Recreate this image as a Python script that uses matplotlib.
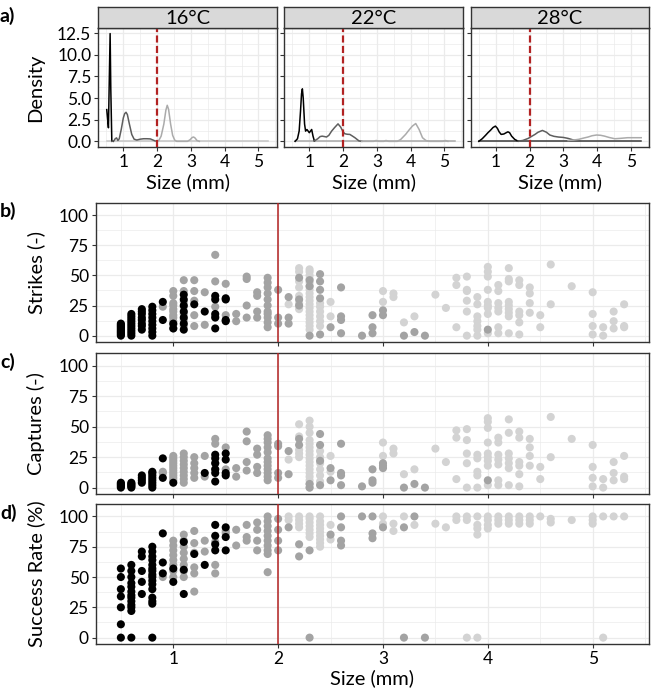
import matplotlib
matplotlib.use("Agg")
import matplotlib.pyplot as plt
from matplotlib.ticker import MultipleLocator, FormatStrFormatter

plt.rcParams['font.family'] = ['Lato', 'DejaVu Sans']

# ---------------- data ----------------
temps = ["16°C", "22°C", "28°C"]

# density curves (panel a)
d16_black_x = [0.51, 0.53, 0.56, 0.58, 0.61, 0.63, 0.66, 0.70]
d16_black_y = [3.67, 2.8, 1.57, 6.0, 12.46, 6.0, 0.03, 0.0]
d16_dgrey_x = [0.66, 0.72, 0.76, 0.80, 0.84, 0.88, 0.94, 1.00, 1.04, 1.08, 1.12, 1.18, 1.25,
               1.32, 1.40, 1.50, 1.60, 1.70, 1.80, 1.88, 1.95, 2.0]
d16_dgrey_y = [0.0, 0.05, 0.3, 0.4, 0.1, 0.3, 1.4, 2.7, 3.2, 3.36, 3.1, 2.0, 0.8,
               0.25, 0.15, 0.25, 0.3, 0.3, 0.28, 0.15, 0.03, 0.0]
d16_lgrey_x = [1.98, 2.05, 2.12, 2.2, 2.26, 2.30, 2.34, 2.40, 2.46, 2.52, 2.58, 2.7, 2.9,
               2.98, 3.04, 3.08, 3.12, 3.18, 3.25]
d16_lgrey_y = [0, 0.1, 0.6, 2.0, 3.6, 4.17, 3.7, 2.0, 0.7, 0.15, 0.0, 0, 0,
               0.2, 0.45, 0.5, 0.4, 0.1, 0]
d16_base_x = [0.51, 5.29]
d16_base_y = [0, 0]

d22_black_x = [0.58, 0.65, 0.70, 0.74, 0.77, 0.795, 0.82, 0.86, 0.89, 0.93, 1.0, 1.07, 1.11, 1.15]
d22_black_y = [0, 0.3, 1.2, 3.5, 5.5, 6.07, 5.0, 2.0, 1.18, 1.37, 1.0, 1.37, 0.6, 0.05]
d22_dgrey_x = [1.15, 1.25, 1.32, 1.38, 1.45, 1.51, 1.58, 1.66, 1.75, 1.85, 1.93, 2.0, 2.05,
               2.12, 2.2, 2.28, 2.35, 2.47, 2.55]
d22_dgrey_y = [0.05, 0.3, 0.55, 0.6, 0.55, 0.5, 0.7, 1.18, 1.6, 2.02, 1.64, 1.1, 0.88,
               0.82, 0.8, 0.6, 0.42, 0.05, 0]
d22_lgrey_x = [2.55, 2.9, 2.98, 3.06, 3.2, 3.27, 3.35, 3.6, 3.7, 3.85, 3.95, 4.05, 4.15,
               4.25, 4.35, 4.45, 4.55, 4.95, 5.03, 5.1]
d22_lgrey_y = [0, 0, 0.1, 0, 0, 0.1, 0, 0, 0.2, 0.8, 1.3, 1.76, 2.06,
               1.37, 0.42, 0.1, 0, 0, 0.1, 0]
d22_base_x = [0.58, 5.3]
d22_base_y = [0, 0]

d28_black_x = [0.50, 0.6, 0.7, 0.77, 0.85, 0.92, 0.99, 1.05, 1.1, 1.16, 1.24, 1.31, 1.36,
               1.41, 1.47, 1.56, 1.66]
d28_black_y = [0, 0.3, 0.7, 1.0, 1.3, 1.6, 1.76, 1.5, 1.1, 0.8, 0.85, 1.0, 1.1,
               1.0, 0.6, 0.23, 0.02]
d28_dgrey_x = [1.66, 1.8, 1.96, 2.05, 2.16, 2.25, 2.38, 2.5, 2.6, 2.72, 2.85, 3.0, 3.14,
               3.3, 3.4, 3.5]
d28_dgrey_y = [0.02, 0.1, 0.34, 0.55, 0.8, 1.05, 1.26, 1.05, 0.73, 0.58, 0.5, 0.45, 0.34,
               0.15, 0.05, 0.02]
d28_lgrey_x = [3.14, 3.3, 3.45, 3.6, 3.73, 3.85, 3.98, 4.1, 4.22, 4.35, 4.52, 4.7, 4.9, 5.1, 5.3]
d28_lgrey_y = [0.1, 0.15, 0.23, 0.38, 0.5, 0.65, 0.73, 0.7, 0.6, 0.45, 0.3, 0.35, 0.42, 0.42, 0.42]
d28_base_x = [0.5, 5.3]
d28_base_y = [0, 0]

threshold_size = 2.0

# scatter data: (size, [values at that size])
strikes_dark = [
    (0.5, [0, 1, 2, 3, 4, 5, 6, 7, 8, 9, 10]),
    (0.6, [0, 2, 4, 6, 8, 10, 12, 14, 16, 18]),
    (0.7, [5, 8, 10, 13, 15, 18, 20, 22]),
    (0.8, [0, 3, 6, 9, 12, 15, 18, 21, 24]),
    (0.9, [13, 28]),
    (1.0, [6, 10]),
    (1.1, [5, 10, 15, 20, 25, 30, 34]),
    (1.2, [26]),
    (1.3, [20]),
    (1.4, [6, 15, 18, 30, 33]),
    (1.5, [12, 13, 30, 31]),
]
strikes_mid = [
    (0.9, [24]),
    (1.0, [6, 9, 12, 15, 17, 20, 22, 25, 27, 33, 37]),
    (1.1, [8, 13, 18, 24, 28, 37, 46]),
    (1.2, [8, 17, 29, 37, 46]),
    (1.3, [9, 36]),
    (1.4, [16, 24, 45, 67]),
    (1.5, [17, 43]),
    (1.6, [12, 18]),
    (1.7, [15, 25, 47, 49]),
    (1.8, [15, 20, 33, 36]),
    (1.9, [7, 11, 15, 18, 20, 25, 30, 35, 40, 44, 48]),
    (2.0, [10, 15, 38]),
    (2.1, [10, 15, 32]),
    (2.2, [25, 30, 48]),
    (2.3, [0, 41, 46]),
    (2.4, [1, 31, 38, 45, 51]),
    (2.5, [7]),
    (2.6, [2, 13, 16, 40]),
    (2.8, [0]),
    (2.9, [2, 7, 17]),
    (3.0, [17, 21]),
    (3.2, [0]),
    (3.3, [3]),
    (3.4, [0]),
    (4.0, [5]),
]
strikes_light = [
    (2.1, [26]),
    (2.2, [22, 27, 33, 40, 45, 53, 56]),
    (2.3, [5, 8, 11, 14, 17, 20, 23, 26, 29, 32, 35, 38, 41, 44, 47, 50, 53, 55]),
    (2.4, [8, 12, 16, 20, 24, 27]),
    (2.5, [16, 28]),
    (3.0, [28, 37]),
    (3.1, [32, 35]),
    (3.2, [11]),
    (3.3, [16]),
    (3.5, [34]),
    (3.6, [23]),
    (3.7, [7, 42, 48]),
    (3.8, [0, 20, 29, 37, 38, 49]),
    (3.9, [0, 5, 8, 12, 16, 26, 32]),
    (4.0, [2, 18, 23, 25, 28, 38, 49, 53, 57]),
    (4.1, [2, 7, 20, 23, 27, 37, 42]),
    (4.2, [2, 16, 19, 22, 25, 28, 45, 47, 56]),
    (4.3, [1, 11, 17, 20, 42, 46]),
    (4.4, [19, 27, 35, 40]),
    (4.5, [7, 17]),
    (4.6, [26, 59]),
    (4.8, [41]),
    (5.0, [1, 8, 18, 36]),
    (5.1, [0, 7]),
    (5.2, [6, 12, 20]),
    (5.3, [7, 8, 26]),
]

captures_dark = [
    (0.5, [0, 1, 2, 3, 4]),
    (0.6, [0, 1, 2, 3, 4]),
    (0.7, [4, 6, 8, 10]),
    (0.8, [0, 2, 4, 6, 8, 10, 12, 13]),
    (0.9, [8, 24]),
    (1.0, [4]),
    (1.3, [12]),
    (1.4, [5, 12, 15, 20, 24, 27]),
    (1.5, [10, 12, 23, 28]),
]
captures_mid = [
    (0.9, [12, 13]),
    (1.0, [6, 8, 10, 12, 14, 16, 18, 20, 22, 24, 26]),
    (1.1, [4, 7, 10, 13, 16, 19, 22, 25, 28]),
    (1.2, [8, 12, 16, 20, 25]),
    (1.3, [9, 26]),
    (1.4, [15, 20, 36, 40]),
    (1.5, [15, 33]),
    (1.6, [9, 16]),
    (1.7, [14, 21, 38, 46]),
    (1.8, [12, 17, 27, 32]),
    (1.9, [6, 9, 12, 15, 18, 21, 24, 29, 33, 37, 40, 43]),
    (2.0, [8, 12, 34, 36]),
    (2.1, [11, 30]),
    (2.2, [35, 40]),
    (2.3, [0, 3]),
    (2.4, [2, 22, 35, 44]),
    (2.5, [6, 16]),
    (2.6, [2, 10, 12, 36]),
    (2.8, [1]),
    (2.9, [4, 6, 15]),
    (3.0, [16, 18, 20]),
    (3.2, [0]),
    (3.3, [3]),
    (3.4, [0]),
    (4.0, [6]),
]
captures_light = [
    (2.1, [23]),
    (2.2, [25, 28, 31, 42, 52]),
    (2.3, [0, 3, 6, 9, 12, 15, 18, 21, 24, 27, 30, 33, 36, 39, 45, 50, 55]),
    (2.4, [5, 10, 15, 20, 25, 30]),
    (2.5, [13, 26]),
    (3.0, [26, 37]),
    (3.1, [28, 32]),
    (3.2, [11]),
    (3.3, [15]),
    (3.5, [32]),
    (3.6, [21]),
    (3.7, [7, 41, 47]),
    (3.8, [0, 20, 28, 39, 48]),
    (3.9, [0, 10, 13, 24, 27]),
    (4.0, [2, 18, 22, 25, 28, 37, 49, 54, 57]),
    (4.1, [2, 6, 19, 23, 27, 37, 41]),
    (4.2, [2, 16, 20, 24, 28, 45, 56]),
    (4.3, [1, 11, 18, 21, 41, 46]),
    (4.4, [18, 26, 33, 40]),
    (4.5, [7, 17]),
    (4.6, [25, 58]),
    (4.8, [40]),
    (5.0, [1, 8, 17, 35]),
    (5.1, [0, 7]),
    (5.2, [6, 12, 21]),
    (5.3, [7, 9, 26]),
]

success_dark = [
    (0.5, [0, 11, 25, 34, 40, 50, 57]),
    (0.6, [0, 22, 25, 27, 30, 33, 35, 38, 42, 45, 50, 55, 60]),
    (0.7, [36, 46, 55, 67, 71]),
    (0.8, [0, 28, 30, 33, 40, 44, 47, 50, 52, 55, 57, 60, 64, 67, 71, 75]),
    (0.9, [53, 62, 86]),
    (1.0, [46, 57]),
    (1.1, [36, 56, 79]),
    (1.2, [69]),
    (1.3, [60]),
    (1.4, [72, 77, 84, 93]),
    (1.5, [72, 83, 91]),
]
success_mid = [
    (0.9, [50]),
    (1.0, [50, 55, 60, 64, 68, 72, 76, 80]),
    (1.1, [50, 55, 60, 65, 70, 75, 80, 85]),
    (1.2, [38, 53, 58, 70, 78, 88]),
    (1.3, [71, 80]),
    (1.4, [53, 60, 79]),
    (1.5, [86, 88]),
    (1.6, [76, 89]),
    (1.7, [80, 83, 93]),
    (1.8, [72, 80, 89, 95]),
    (1.9, [54, 69, 72, 76, 80, 84, 88, 92, 96, 100]),
    (2.0, [72, 80, 89, 98]),
    (2.1, [91]),
    (2.2, [67, 77]),
    (2.3, [0, 72]),
    (2.5, [85]),
    (2.6, [76, 80, 91, 100]),
    (2.8, [100]),
    (2.9, [82, 86, 100]),
    (3.0, [91]),
    (3.2, [0, 91]),
    (3.3, [100]),
    (3.4, [0]),
]
success_light = [
    (2.1, [97, 100]),
    (2.2, [91, 94, 97, 100]),
    (2.3, [83, 86, 89, 92, 95, 98, 100]),
    (2.4, [75, 78, 81, 84, 87, 90, 93, 96, 100]),
    (2.5, [81, 93]),
    (3.0, [94, 100]),
    (3.1, [88, 94]),
    (3.2, [100]),
    (3.3, [93]),
    (3.5, [94]),
    (3.6, [91]),
    (3.7, [97, 100]),
    (3.8, [0, 97, 100]),
    (3.9, [0, 85, 90, 93, 100]),
    (4.0, [90, 93, 97, 100]),
    (4.1, [94, 97, 100]),
    (4.2, [94, 97, 100]),
    (4.3, [94, 97, 100]),
    (4.4, [94, 97, 100]),
    (4.5, [100]),
    (4.6, [95, 98]),
    (4.8, [97]),
    (5.0, [94, 97, 100]),
    (5.1, [0, 100]),
    (5.2, [100]),
    (5.3, [100]),
]

# ---------------- styling ----------------
W, H = 656, 689
fig = plt.figure(figsize=(W / 100, H / 100), dpi=100)
fig.patch.set_facecolor('white')

C_DARK, C_MID, C_LIGHT = '#000000', '#a3a3a3', '#d3d3d3'
RED = '#b22222'
SPINE = '#333333'
GRID = '#ebebeb'
TICK_FS = 12.5
TITLE_FS = 14.5


def ax_px(l, t, r, b):
    return fig.add_axes([l / W, 1 - b / H, (r - l) / W, (b - t) / H])


def style(ax, xl, yl, ymaj, ymin):
    ax.set_xlim(*xl)
    ax.set_ylim(*yl)
    ax.xaxis.set_major_locator(MultipleLocator(1))
    ax.xaxis.set_minor_locator(MultipleLocator(0.5))
    ax.yaxis.set_major_locator(MultipleLocator(ymaj))
    ax.yaxis.set_minor_locator(MultipleLocator(ymin))
    ax.grid(True, which='major', color=GRID, lw=0.9, zorder=0)
    ax.grid(True, which='minor', color=GRID, lw=0.5, zorder=0)
    ax.set_axisbelow(True)
    for s in ax.spines.values():
        s.set_color(SPINE)
        s.set_linewidth(1.0)
    ax.tick_params(which='major', length=3, width=0.8, color=SPINE, pad=2,
                   labelsize=TICK_FS, labelcolor='black')
    ax.tick_params(which='minor', length=0)


def expand(cols):
    xs, ys = [], []
    for x, vals in cols:
        for v in vals:
            xs.append(x)
            ys.append(v)
    return xs, ys


XL = (0.26, 5.54)

# ---------------- panel a ----------------
dens = [
    [(d16_base_x, d16_base_y, '#c4c4c4'), (d16_black_x, d16_black_y, 'black'),
     (d16_dgrey_x, d16_dgrey_y, '#5e5e5e'), (d16_lgrey_x, d16_lgrey_y, '#ababab')],
    [(d22_base_x, d22_base_y, '#a8a8a8'), (d22_black_x, d22_black_y, 'black'),
     (d22_dgrey_x, d22_dgrey_y, '#5e5e5e'), (d22_lgrey_x, d22_lgrey_y, '#ababab')],
    [(d28_base_x, d28_base_y, '#3a3a3a'), (d28_black_x, d28_black_y, 'black'),
     (d28_dgrey_x, d28_dgrey_y, '#5e5e5e'), (d28_lgrey_x, d28_lgrey_y, '#ababab')],
]
panel_x = [(98.3, 276.7), (284.3, 462.7), (470.7, 649.3)]
for i, (l, r) in enumerate(panel_x):
    ax = ax_px(l, 28.3, r, 146.7)
    style(ax, XL, (-0.62, 13.07), 2.5, 1.25)
    for xs, ys, c in dens[i]:
        ax.plot(xs, ys, color=c, lw=1.1, zorder=3)
    ax.axvline(threshold_size, color=RED, lw=1.6, ls=(0, (3.2, 1.5)), zorder=4)
    if i == 0:
        ax.yaxis.set_major_formatter(FormatStrFormatter('%.1f'))
    else:
        ax.tick_params(axis='y', labelleft=False)
    # strip
    sax = ax_px(l, 7.3, r, 28.3)
    sax.set_facecolor('#d9d9d9')
    sax.set_xticks([]); sax.set_yticks([])
    for s in sax.spines.values():
        s.set_color(SPINE); s.set_linewidth(1.0)
    sax.text(0.5, 0.47, temps[i], ha='center', va='center', fontsize=14.5,
             transform=sax.transAxes)
    fig.text((l + r) / 2 / W, 1 - 182 / H, 'Size (mm)', ha='center', va='center',
             fontsize=TITLE_FS)

fig.text(36 / W, 1 - 88 / H, 'Density', rotation=90, ha='center', va='center',
         fontsize=TITLE_FS)
fig.text(0, 1 - 16 / H, 'a)', ha='left', va='center', fontsize=14, fontweight='bold')

# ---------------- panels b, c, d ----------------
scatter_sets = [
    (strikes_dark, strikes_mid, strikes_light, 'Strikes (-)', 'b)', 202.7, 342.0),
    (captures_dark, captures_mid, captures_light, 'Captures (-)', 'c)', 353.3, 494.0),
    (success_dark, success_mid, success_light, 'Success Rate (%)', 'd)', 504.0, 644.0),
]
for k, (dk, md, lt, ylab, plab, t, b) in enumerate(scatter_sets):
    ax = ax_px(95.7, t, 649.3, b)
    style(ax, XL, (-5.25, 110.25), 25, 12.5)
    for cols, c in ((lt, C_LIGHT), (md, C_MID), (dk, C_DARK)):
        xs, ys = expand(cols)
        ax.scatter(xs, ys, s=34, color=c, edgecolors='none', zorder=3)
    ax.axvline(threshold_size, color=RED, lw=1.1, zorder=4)
    if k < 2:
        ax.tick_params(axis='x', labelbottom=False)
    fig.text(36 / W, 1 - (t + b) / 2 / H, ylab, rotation=90, ha='center', va='center',
             fontsize=TITLE_FS)
    fig.text(0, 1 - (t + 8.5) / H, plab, ha='left', va='center', fontsize=14,
             fontweight='bold')

fig.text(372 / W, 1 - 678 / H, 'Size (mm)', ha='center', va='center', fontsize=TITLE_FS)

fig.savefig('out.png', dpi=100, facecolor='white')
